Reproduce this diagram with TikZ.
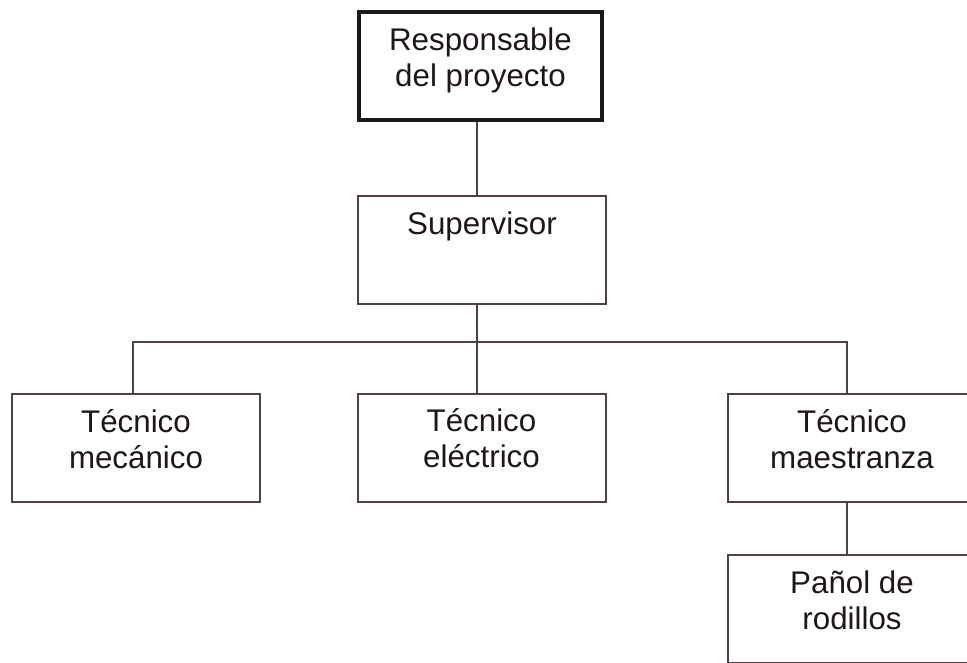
\documentclass[tikz,border=0pt]{standalone}
\usepackage{fontspec}
\setmainfont{Liberation Sans}
\usetikzlibrary{calc}
\definecolor{edge}{RGB}{78,64,74}
\definecolor{ink}{RGB}{30,22,28}
\newcommand{\topstrut}{\rule{0pt}{30pt}}
\begin{document}
\begin{tikzpicture}[x=1pt,y=-1pt,
  box/.style={draw=edge, line width=2pt, fill=white, rectangle, inner sep=0pt, minimum width=248pt, minimum height=108pt},
  headbox/.style={box, draw=black!90, line width=4pt, minimum width=243pt},
  txt/.style={inner sep=0pt, align=center, anchor=north, text=ink, font=\fontsize{31.3}{36}\selectfont},
  conn/.style={draw=edge, line width=2pt}]
\useasboundingbox (0,0) rectangle (967,662);
\fill[white] (0,0) rectangle (967,662);
% boxes
\node[headbox] (resp) at (480.5,66) {};
\node[box] (sup) at (482,250) {};
\node[box] (mec) at (136,448) {};
\node[box] (ele) at (481.5,447.5) {};
\node[box] (mae) at (852,448) {};
\node[box] (pan) at (852,609) {};
% texts
\node[txt] (respT) at ([yshift=-10pt]resp.north) {\topstrut Responsable\\del proyecto};
\node[txt] (supT) at ([yshift=-9pt]sup.north) {\topstrut Supervisor};
\node[txt] (mecT) at ([yshift=-9pt]mec.north) {\topstrut Técnico\\mecánico};
\node[txt] (eleT) at ([yshift=-9pt]ele.north) {\topstrut Técnico\\eléctrico};
\node[txt] (maeT) at ([yshift=-9pt]mae.north) {\topstrut Técnico\\maestranza};
\node[txt] (panT) at ([yshift=-9pt]pan.north) {\topstrut Pañol de\\rodillos};
% connectors
\coordinate (j) at (477,342);
\draw[conn] (resp.south -| j) -- (sup.north -| j);
\draw[conn] (sup.south -| j) -- (j);
\draw[conn] ([xshift=-3pt]mec.north) |- (j);
\draw[conn] (j) -| ([xshift=-5pt]mae.north);
\draw[conn] (j) -- (ele.north -| j);
\draw[conn] ([xshift=-5pt]mae.south) -- ([xshift=-5pt]pan.north);
\end{tikzpicture}
\end{document}
